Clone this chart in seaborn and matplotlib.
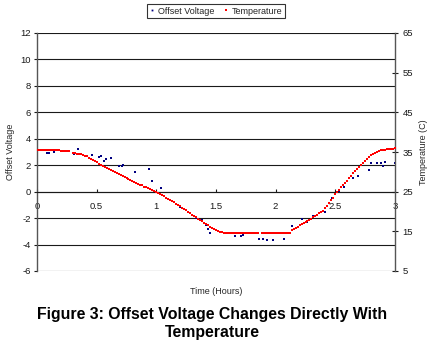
import numpy as np
import pandas as pd
import matplotlib
matplotlib.use("Agg")
import matplotlib.pyplot as plt
from matplotlib.lines import Line2D
import seaborn as sns

# Offset voltage samples (hours, volts)
offset_time = [0.08, 0.10, 0.14, 0.31, 0.34, 0.46, 0.52, 0.54, 0.56, 0.58, 0.62,
               0.69, 0.71, 0.72, 0.82, 0.94, 0.96, 1.04, 1.20, 1.33, 1.38, 1.40,
               1.42, 1.43, 1.45, 1.66, 1.71, 1.73, 1.75, 1.86, 1.89, 1.93, 1.98,
               2.07, 2.14, 2.22, 2.26, 2.31, 2.41, 2.46, 2.47, 2.51, 2.53, 2.57,
               2.65, 2.69, 2.78, 2.80, 2.85, 2.88, 2.90, 2.92, 3.00]
offset_voltage = [2.9, 2.9, 3.0, 2.85, 3.2, 2.75, 2.65, 2.72, 2.35, 2.48, 2.53,
                  1.95, 1.97, 2.05, 1.5, 1.72, 0.83, 0.25, -1.14, -1.97, -2.14, -2.4,
                  -2.52, -2.85, -3.15, -3.36, -3.35, -3.3, -3.15, -3.55, -3.55, -3.62, -3.65,
                  -3.55, -2.6, -2.1, -2.27, -1.87, -1.55, -0.63, -0.5, 0.0, 0.08, 0.38,
                  1.0, 1.17, 1.64, 2.2, 2.2, 2.2, 1.95, 2.25, 2.2]

# Chamber temperature logged once per minute (deg C); None = missed sample
temperature = [
    35.5, 35.5, 35.5, 35.5, 35.5, 35.4, 35.4, 35.4, 35.4, 35.4, 35.4, 35.4,
    35.3, 35.3, 35.3, 35.3, 35.3, None,
    34.7, 34.7, 34.6, 34.5, 34.4, 34.3, 34.1,
    33.9, 33.6, 33.3, 33.0, 32.7, 32.4,
    32.1, 31.8, 31.5, 31.3, 31.0, 30.7,
    30.4, 30.2, 29.9, 29.7, 29.4, 29.2,
    28.9, 28.7, 28.4, 28.2, 27.9, 27.7,
    27.5, 27.3, 27.0, 26.8, 26.6, 26.3,
    26.1, 25.9, 25.7, 25.5, 25.2, 25.0,
    24.7, 24.4, 24.1, 23.8, 23.5, 23.2,
    22.9, 22.6, 22.3, 22.0, 21.7, 21.3,
    21.0, 20.6, 20.3, 19.9, 19.6, 19.2,
    18.9, 18.5, 18.2, 17.9, 17.5, 17.2,
    16.9, 16.6, 16.2, 15.9, 15.6, 15.3,
    15.1, 14.9, 14.8, 14.7, 14.7, 14.7,
    14.7, 14.7, 14.7, 14.7, 14.7, 14.7, 14.7, 14.7, 14.7, 14.7,
    14.7, 14.7, 14.7, 14.7, 14.7, None, 14.6, 14.7, 14.7, 14.7,
    14.7, 14.7, 14.7, 14.7, 14.7, 14.7, 14.7, 14.7, 14.7, 14.7, 14.7,
    15.3,
    15.6, 15.9, 16.2, 16.5,
    16.9, 17.1, 17.4, 17.6, 17.9, 18.2,
    18.5, 18.8, 19.1, 19.5, 19.8, 20.2,
    20.8, 21.4, 22.1, 22.8, 23.5, 24.3,
    24.9, 25.5, 26.1, 26.6, 27.2, 27.8,
    28.4, 29.0, 29.6, 30.1, 30.7, 31.2,
    31.7, 32.2, 32.7, 33.2, 33.7, 34.2,
    34.5, 34.8, 35.0, 35.2, 35.4, 35.5,
    35.6, 35.7, 35.7, 35.8, 35.8, 35.9,
]
temp_time = [m / 60 for m in range(len(temperature))]

volt_ticks = [-6, -4, -2, 0, 2, 4, 6, 8, 10, 12]
temp_ticks = [5, 15, 25, 35, 45, 55, 65]
time_ticks = [0, 0.5, 1, 1.5, 2, 2.5, 3]
time_labels = ["0", "0.5", "1", "1.5", "2", "2.5", "3"]

sns.set_theme(style="white")
plt.rcParams["font.family"] = ["Liberation Sans", "DejaVu Sans"]
plt.rcParams["axes.unicode_minus"] = False

W, H = 429, 348
fig = plt.figure(figsize=(W / 100, H / 100), dpi=100)
x0, x1, y0, y1 = 37, 395, 33, 271
ax = fig.add_axes([x0 / W, 1 - y1 / H, (x1 - x0) / W, (y1 - y0) / H])
ax.patch.set_alpha(0)

offset_df = pd.DataFrame({"time": offset_time, "voltage": offset_voltage})
temp_df = pd.DataFrame({"time": temp_time, "temp": temperature}).dropna()

sns.scatterplot(data=offset_df, x="time", y="voltage", ax=ax, marker="s",
                s=2.0, color="#000080", linewidth=0, zorder=3)
ax.set_xlim(0, 3)
ax.set_ylim(-6, 12)
ax.set_yticks(volt_ticks)
ax.set_xticks(time_ticks)
ax.set_xticklabels(time_labels)

for v in volt_ticks:
    ax.axhline(v, color="#1a1a1a", lw=0.8, zorder=1)

for side in ["top", "right"]:
    ax.spines[side].set_visible(False)
ax.spines["bottom"].set_position(("data", 0))
ax.spines["bottom"].set_color("#1a1a1a")
ax.spines["bottom"].set_linewidth(0.8)
ax.spines["left"].set_color("#555555")
ax.spines["left"].set_linewidth(1.0)

ax.tick_params(axis="x", direction="in", length=2, width=0.8, pad=7.5,
               labelsize=6.8, colors="#1a1a1a", bottom=True)
ax.tick_params(axis="y", direction="out", length=2.2, width=0.8, pad=2,
               labelsize=6.8, colors="#1a1a1a", left=True)

ax.set_xlabel("Time (Hours)", fontsize=6.5)
ax.xaxis.set_label_coords(0.5, -0.068)
ax.set_ylabel("Offset Voltage", fontsize=6.5, rotation=90, ha="center", va="center")
ax.yaxis.set_label_coords(-0.075, 0.5)

ax2 = ax.twinx()
sns.scatterplot(data=temp_df, x="time", y="temp", ax=ax2, marker="s",
                s=2.6, color="#ff0000", linewidth=0, zorder=4)
ax2.set_ylim(5, 65)
ax2.set_yticks(temp_ticks)
ax2.grid(False)
for side in ["top", "left", "bottom"]:
    ax2.spines[side].set_visible(False)
ax2.spines["right"].set_color("#555555")
ax2.spines["right"].set_linewidth(1.0)
ax2.tick_params(axis="y", direction="inout", length=4.5, width=0.8, pad=3.3,
                labelsize=6.8, colors="#1a1a1a", right=True)
ax2.set_ylabel("Temperature (C)", fontsize=6.5, rotation=90, ha="center", va="center")
ax2.yaxis.set_label_coords(1.081, 0.5)
ax.set_xlim(0, 3)

handles = [
    Line2D([], [], ls="none", marker="s", markersize=1.3, color="#000080", markeredgewidth=0),
    Line2D([], [], ls="none", marker="s", markersize=1.6, color="#ff0000", markeredgewidth=0),
]
leg = fig.legend(handles, ["Offset Voltage", "Temperature"], loc="center",
                 bbox_to_anchor=(216 / W, 1 - 11 / H), ncol=2, fontsize=6.5,
                 frameon=True, fancybox=False, edgecolor="black", borderpad=0.25,
                 handlelength=0.6, handletextpad=0.4, columnspacing=0.9,
                 borderaxespad=0)
leg.get_frame().set_linewidth(0.8)

fig.text(212 / W, 1 - 323.5 / H,
         "Figure 3: Offset Voltage Changes Directly With\nTemperature",
         ha="center", va="center", fontsize=11.4, fontweight="bold",
         linespacing=1.32, color="black")

fig.savefig("out.png", dpi=100)
